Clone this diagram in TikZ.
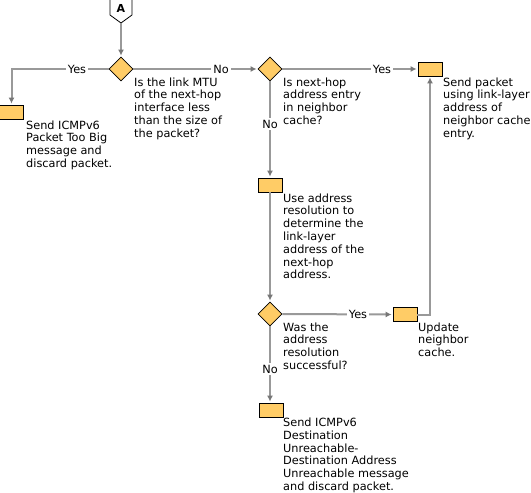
\documentclass[tikz,border=0pt]{standalone}
\usepackage{fontspec}
\setmainfont{DejaVu Sans}
\usetikzlibrary{shapes.geometric,arrows.meta}
\definecolor{boxfill}{HTML}{FFCC66}
\definecolor{linegray}{HTML}{999999}
\definecolor{tipgray}{HTML}{777777}
\newcommand\mylines[1]{\vtop{\halign{##\hfil\cr#1\crcr}}}
\begin{document}
\begin{tikzpicture}[x=1pt,y=-1pt,
  every node/.style={font=\fontsize{11.3}{12.8}\selectfont},
  decision/.style={diamond,draw=black,line width=0.8pt,fill=boxfill,minimum width=24pt,minimum height=24pt,inner sep=0pt},
  stepbox/.style={rectangle,draw=black,line width=0.8pt,fill=boxfill,minimum width=24pt,minimum height=14pt,inner sep=0pt},
  conn/.style={draw=linegray,line width=2pt,-{Latex[length=6pt,width=6pt,color=tipgray]},shorten >=1pt},
  lbl/.style={fill=white,inner sep=2pt},
  desc/.style={anchor=base west,inner sep=0pt}]
\useasboundingbox (0,0) rectangle (531,493);
\fill[white] (0,0) rectangle (531,493);

% connector A
\draw[black,line width=0.8pt,fill=white] (110,-1) -- (132,-1) -- (132,15) -- (121,23) -- (110,15) -- cycle;
\node[font=\fontsize{11}{13}\selectfont\bfseries,inner sep=0pt] (A) at (121,8) {A};
\coordinate (Abot) at (121,23);

% shapes
\node[decision] (d1) at (121,69) {};
\node[decision] (d2) at (270,69) {};
\node[decision] (d3) at (270,314) {};
\node[stepbox] (b1) at (11.5,112) {};
\node[stepbox] (b3) at (430,69) {};
\node[stepbox] (b2) at (270,185) {};
\node[stepbox] (b4) at (405,314.5) {};
\node[stepbox] (b5) at (271,410) {};

% connectors
\draw[conn] (Abot) -- (d1.north);
\draw[conn] (d1.west) -| (b1.north);
\draw[conn] (d1.east) -- (d2.west);
\draw[conn] (d2.east) -- (b3.west);
\draw[conn] (d2.south) -- (b2.north);
\draw[conn] (b2.south) -- (d3.north);
\draw[conn] (d3.east) -- (b4.west);
\draw[conn] (d3.south) -- (b5.north -| d3.south);
\draw[conn] (b4.east) -| (b3.south);

% labels
\node[lbl] (l1) at (77,69) {Yes};
\node[lbl] (l2) at (221,69) {No};
\node[lbl] (l3) at (382,69) {Yes};
\node[lbl] (l4) at (270,124) {No};
\node[lbl] (l5) at (358,314) {Yes};
\node[lbl] (l6) at (270,369) {No};

% descriptions
\node[desc] (t1) at (26,129) {\mylines{Send ICMPv6\cr Packet Too Big\cr message and\cr discard packet.}};
\node[desc] (t2) at (134,86) {\mylines{Is the link MTU\cr of the next-hop\cr interface less\cr than the size of\cr the packet?}};
\node[desc] (t3) at (283,86) {\mylines{Is next-hop\cr address entry\cr in neighbor\cr cache?}};
\node[desc] (t4) at (443,86) {\mylines{Send packet\cr using link-layer\cr address of\cr neighbor cache\cr entry.}};
\node[desc] (t5) at (283,202) {\mylines{Use address\cr resolution to\cr determine the\cr link-layer\cr address of the\cr next-hop\cr address.}};
\node[desc] (t6) at (283,331) {\mylines{Was the\cr address\cr resolution\cr successful?}};
\node[desc] (t7) at (418,331) {\mylines{Update\cr neighbor\cr cache.}};
\node[desc] (t8) at (283,426.5) {\mylines{Send ICMPv6\cr Destination\cr Unreachable-\cr Destination Address\cr Unreachable message\cr and discard packet.}};
\end{tikzpicture}
\end{document}
